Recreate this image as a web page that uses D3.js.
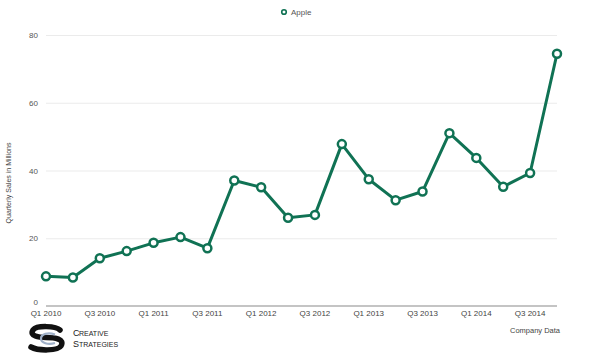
<!DOCTYPE html>
<html>
<head>
<meta charset="utf-8">
<style>
body { margin: 0; background: #fff; }
svg text { font-family: "Liberation Sans", Arial, Helvetica, sans-serif; }
</style>
</head>
<body>
<svg width="600" height="363"></svg>
<script src="https://d3js.org/d3.v7.min.js"></script>
<script>
var quarters = ["Q1 2010","Q2 2010","Q3 2010","Q4 2010",
                "Q1 2011","Q2 2011","Q3 2011","Q4 2011",
                "Q1 2012","Q2 2012","Q3 2012","Q4 2012",
                "Q1 2013","Q2 2013","Q3 2013","Q4 2013",
                "Q1 2014","Q2 2014","Q3 2014","Q4 2014"];
var apple = [8.75, 8.4, 14.1, 16.2, 18.65, 20.34, 17.07, 37.04, 35.06, 26.03,
             26.9, 47.79, 37.43, 31.24, 33.8, 51.03, 43.72, 35.2, 39.27, 74.47];
var yTicks = [0, 20, 40, 60, 80];

var green = "#107254";

var svg = d3.select("svg");

var x = d3.scalePoint()
    .domain(quarters)
    .range([46, 557]);

var y = d3.scaleLinear()
    .domain([0, 80])
    .range([306, 35]);

// grid
svg.append("g")
  .selectAll("line")
  .data(yTicks.filter(function(d) { return d > 0; }))
  .enter().append("line")
    .attr("x1", 46)
    .attr("x2", 557)
    .attr("y1", function(d) { return y(d) + 0.5; })
    .attr("y2", function(d) { return y(d) + 0.5; })
    .attr("stroke", "#ebebeb")
    .attr("stroke-width", 1);

// baseline
svg.append("line")
    .attr("x1", 46).attr("x2", 557)
    .attr("y1", y(0)).attr("y2", y(0))
    .attr("stroke", "#c4c4c4")
    .attr("stroke-width", 2);

// y tick labels
svg.append("g")
  .selectAll("text")
  .data(yTicks)
  .enter().append("text")
    .attr("x", 38)
    .attr("y", function(d) { return d === 0 ? y(d) - 1 : y(d) + 3; })
    .attr("text-anchor", "end")
    .attr("font-size", 8)
    .attr("fill", "#555")
    .text(function(d) { return d; });

// x tick labels
svg.append("g")
  .selectAll("text")
  .data(quarters.filter(function(d, i) { return i % 2 === 0; }))
  .enter().append("text")
    .attr("x", function(d) { return x(d); })
    .attr("y", 316)
    .attr("text-anchor", "middle")
    .attr("font-size", 8)
    .attr("fill", "#444")
    .text(function(d) { return d; });

// y title
svg.append("text")
    .attr("transform", "translate(11,183) rotate(-90)")
    .attr("text-anchor", "middle")
    .attr("font-size", 7)
    .attr("fill", "#444")
    .text("Quarterly Sales in Millions");

// line
var line = d3.line()
    .x(function(d, i) { return x(quarters[i]); })
    .y(function(d) { return y(d); });

svg.append("path")
    .datum(apple)
    .attr("fill", "none")
    .attr("stroke", green)
    .attr("stroke-width", 3)
    .attr("stroke-linejoin", "round")
    .attr("d", line);

svg.append("g")
  .selectAll("circle")
  .data(apple)
  .enter().append("circle")
    .attr("cx", function(d, i) { return x(quarters[i]); })
    .attr("cy", function(d) { return y(d); })
    .attr("r", 4)
    .attr("fill", "#fff")
    .attr("stroke", green)
    .attr("stroke-width", 2.5);

// legend
svg.append("circle")
    .attr("cx", 284).attr("cy", 12).attr("r", 2.3)
    .attr("fill", "#fff").attr("stroke", green).attr("stroke-width", 1.6);
svg.append("text")
    .attr("x", 291).attr("y", 15)
    .attr("font-size", 8)
    .attr("fill", "#555")
    .text("Apple");

// source
svg.append("text")
    .attr("x", 510).attr("y", 333)
    .attr("font-size", 7.5)
    .attr("fill", "#444")
    .text("Company Data");

// logo
var logo = svg.append("g").attr("transform", "translate(28,325)");
logo.append("path")
    .attr("d", "M32,5 C28,1 9,0 5,5 C1,11 11,12.5 18,12.5 C27,12.5 37,14 33,21 C30,26 10,26 3,22")
    .attr("fill", "none")
    .attr("stroke", "#111")
    .attr("stroke-width", 5.5)
    .attr("stroke-linecap", "round");
logo.append("path")
    .attr("d", "M27,9.5 C20,7 13,9 13,13.5 C13,18 20,20 27,18")
    .attr("fill", "none")
    .attr("stroke", "#9fb0c8")
    .attr("stroke-width", 2.2);
var lt = svg.append("g").attr("fill", "#222");
lt.append("text").attr("x", 73).attr("y", 336).attr("font-size", 9).text("C");
lt.append("text").attr("x", 79).attr("y", 336).attr("font-size", 7).text("REATIVE");
lt.append("text").attr("x", 73).attr("y", 347).attr("font-size", 9).text("S");
lt.append("text").attr("x", 79).attr("y", 347).attr("font-size", 7).text("TRATEGIES");
</script>
</body>
</html>
